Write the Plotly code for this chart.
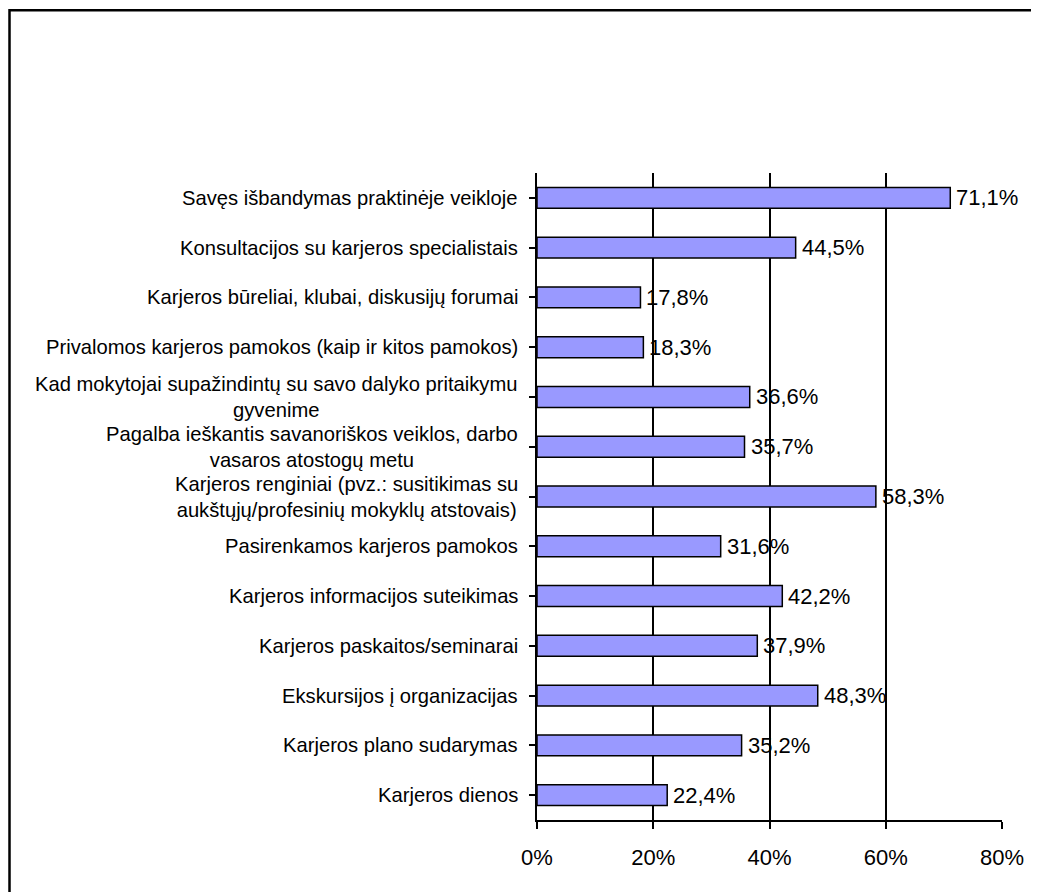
import plotly.graph_objects as go

categories = [
    "Savęs išbandymas praktinėje veikloje",
    "Konsultacijos su karjeros specialistais",
    "Karjeros būreliai, klubai, diskusijų forumai",
    "Privalomos karjeros pamokos (kaip ir kitos pamokos)",
    "Kad mokytojai supažindintų su savo dalyko pritaikymu<br>gyvenime",
    "Pagalba ieškantis savanoriškos veiklos, darbo<br>vasaros atostogų metu",
    "Karjeros renginiai (pvz.: susitikimas su<br>aukštųjų/profesinių mokyklų atstovais)",
    "Pasirenkamos karjeros pamokos",
    "Karjeros informacijos suteikimas",
    "Karjeros paskaitos/seminarai",
    "Ekskursijos į organizacijas",
    "Karjeros plano sudarymas",
    "Karjeros dienos",
]
values = [71.1, 44.5, 17.8, 18.3, 36.6, 35.7, 58.3, 31.6, 42.2, 37.9, 48.3, 35.2, 22.4]
x_ticks = [0, 20, 40, 60, 80]

# page body has an 8px default margin, so figure coords = screen coords - 8
W, H = 1039, 892
L, T = 529, 165
R, B = 45, 80
pw, ph = W - L - R, H - T - B

FONT = "Liberation Sans, Arial, sans-serif"
FS = 20.2
FS_NUM = 22

fig = go.Figure()
fig.add_trace(go.Bar(
    y=list(range(len(categories))),
    x=values,
    orientation="h",
    marker=dict(color="#9999FF", line=dict(color="#000000", width=1.5)),
    hoverinfo="skip",
))

for i, c in enumerate(categories):
    fig.add_annotation(
        x=0, xref="paper", y=i, yref="y",
        text=c, showarrow=False, xanchor="right", yanchor="middle",
        align="center", xshift=-17,
        font=dict(family=FONT, size=FS, color="#000000"),
    )

for i, v in enumerate(values):
    fig.add_annotation(
        x=v, xref="x", y=i, yref="y",
        text=f"{v:.1f}".replace(".", ",") + "%",
        showarrow=False, xanchor="left", yanchor="middle",
        xshift=4,
        font=dict(family=FONT, size=FS_NUM, color="#000000"),
    )

# outer border (left and top visible, extends beyond the page)
fig.add_shape(
    type="rect", xref="paper", yref="paper",
    x0=(1.5 - L) / pw, x1=(W + 40 - L) / pw,
    y0=-(B + 40) / ph, y1=1 + (T - 2.3) / ph,
    line=dict(color="#000000", width=2.5), layer="below",
)

fig.update_layout(
    width=W, height=H,
    margin=dict(l=L, r=R, t=T, b=B, autoexpand=False),
    paper_bgcolor="#FFFFFF", plot_bgcolor="#FFFFFF",
    bargap=0.58,
    showlegend=False,
    font=dict(family=FONT, size=FS, color="#000000"),
)
fig.update_xaxes(
    range=[0, 80], tickvals=x_ticks, ticktext=[f"{t}%" for t in x_ticks],
    showgrid=True, gridcolor="#000000", gridwidth=2,
    showline=True, linecolor="#000000", linewidth=2,
    ticks="outside", ticklen=7, tickwidth=2, tickcolor="#000000",
    ticklabelstandoff=10,
    zeroline=False,
    tickfont=dict(family=FONT, size=FS_NUM, color="#000000"),
)
fig.update_yaxes(
    range=[len(categories) - 0.5, -0.5],
    tickvals=list(range(len(categories))),
    showticklabels=False,
    tickson="boundaries",
    ticks="outside", ticklen=6, tickwidth=2, tickcolor="#000000",
    showline=True, linecolor="#000000", linewidth=2,
    showgrid=False, zeroline=False,
)

fig.write_html("out.html")
